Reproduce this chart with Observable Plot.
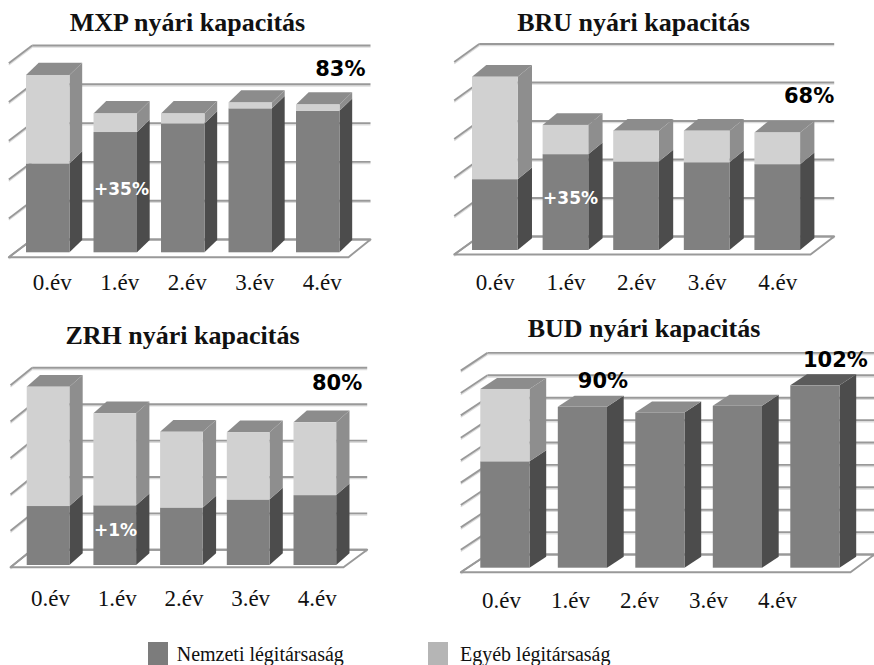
<!DOCTYPE html>
<html>
<head>
<meta charset="utf-8">
<script src="https://cdn.jsdelivr.net/npm/d3@7"></script>
<script src="https://cdn.jsdelivr.net/npm/@observablehq/plot@0.6"></script>
<style>
  body { margin: 0; background: #fff; }
  #page { position: relative; width: 874px; height: 665px; overflow: hidden; background: #fff; }
  .panel { position: absolute; }
  .title { position: absolute; font-family: "Liberation Serif", "Times New Roman", serif; font-weight: bold;
           font-size: 26px; line-height: 26px; white-space: nowrap; transform: translateX(-50%); color: #111; }
  .legend-box { position: absolute; width: 20px; height: 24px; }
  .legend-text { position: absolute; font-family: "Liberation Serif", "Times New Roman", serif; font-size: 20px;
                 line-height: 20px; white-space: nowrap; color: #111; }
</style>
</head>
<body>
<div id="page"></div>
<script>
// Years after the carrier change
const categories = ["0.év", "1.év", "2.év", "3.év", "4.év"];

// Summer seat capacity per airport, split by carrier group (same gridline units within a panel)
const mxpNational = [2.29, 3.10, 3.32, 3.71, 3.65];
const mxpOther    = [2.28, 0.48, 0.26, 0.15, 0.16];

const bruNational = [1.84, 2.49, 2.30, 2.28, 2.23];
const bruOther    = [2.66, 0.76, 0.80, 0.82, 0.82];

const zrhNational = [1.62, 1.64, 1.58, 1.80, 1.92];
const zrhOther    = [3.28, 2.53, 2.08, 1.85, 2.00];

const budNational = [4.75, 7.18, 6.93, 7.23, 8.14];
const budOther    = [3.23, 0, 0, 0, 0];

const seriesNames = ["Nemzeti légitársaság", "Egyéb légitársaság"];

const colors = {
  natFront: "#808080", natSide: "#4c4c4c",
  othFront: "#d1d1d1", othSide: "#8e8e8e",
  top: "#8c8c8c", topAccent: "#5b5b5b",
  grid: "#999999", gridShade: "#dcdcdc",
  legendNat: "#7c7c7c", legendOth: "#b5b5b5"
};

// Layout of each panel (pixels inside its own SVG)
const panels = [
  {
    title: "MXP nyári kapacitás", national: mxpNational, other: mxpOther,
    left: 0, top: 0, titleX: 187.5, titleBaseline: 31,
    xRange: [14, 351.5], barFrac: 0.644, yBase: 252.3, unit: 38.8, grid: 5, depth: [12.7, 12.3],
    wall: {backLeft: 31.7, backRight: 370, frontLeft: 8.3, frontRight: 348, back: 13.3, front: 4.4},
    labelStart: 0.5, labelStep: 1, labelDx: 4, labelBaseline: 37,
    notes: [{kind: "growth", bar: 1, at: 0.53}, {kind: "corner", bar: 4, level: 4.72, inset: 5}]
  },
  {
    title: "BRU nyári kapacitás", national: bruNational, other: bruOther,
    left: 437, top: 0, titleX: 196.5, titleBaseline: 31,
    xRange: [22.55, 375.55], barFrac: 0.647, yBase: 250, unit: 38.5, grid: 5, depth: [14.3, 11.7],
    wall: {backLeft: 41.7, backRight: 396.7, frontLeft: 16.7, frontRight: 373, back: 14, front: 4},
    labelStart: 0.5, labelStep: 1, labelDx: 0, labelBaseline: 39,
    notes: [{kind: "growth", bar: 1, at: 0.54}, {kind: "corner", bar: 4, level: 4.01, inset: 0}]
  },
  {
    title: "ZRH nyári kapacitás", national: zrhNational, other: zrhOther,
    left: 0, top: 310, titleX: 182.5, titleBaseline: 33.5,
    xRange: [14.7, 348.2], barFrac: 0.64, yBase: 255, unit: 36.4, grid: 5, depth: [13.3, 11.7],
    wall: {backLeft: 31.7, backRight: 366.7, frontLeft: 10, frontRight: 343, back: 15.7, front: 1.7},
    labelStart: 0.5, labelStep: 1, labelDx: 2, labelBaseline: 40,
    notes: [{kind: "growth", bar: 1, at: 0.58}, {kind: "corner", bar: 4, level: 5.01, inset: 5}]
  },
  {
    title: "BUD nyári kapacitás", national: budNational, other: budOther,
    left: 437, top: 310, titleX: 207, titleBaseline: 26.5,
    xRange: [29.15, 416.65], barFrac: 0.635, yBase: 257.7, unit: 22.4, grid: 9, depth: [16.7, 11],
    wall: {backLeft: 50, backRight: 437, frontLeft: 23.3, frontRight: 413, back: 13.7, front: 4},
    labelStart: 0.45, labelStep: 0.89, labelDx: 0, labelBaseline: 40, accentTop: 4,
    notes: [{kind: "above", bar: 1}, {kind: "above", bar: 4}]
  }
];

const pct = v => Math.round(v * 100) + "%";
const page = document.getElementById("page");

function drawPanel(p) {
  const n = categories.length;
  const pxX = (p.xRange[1] - p.xRange[0]) / n;          // pixels per category slot
  const sx = px => (px - p.xRange[0]) / pxX;            // pixel → slot units
  const dX = p.depth[0] / pxX, dY = p.depth[1] / p.unit; // bar depth in data units
  const pad = (1 - p.barFrac) / 2;
  const totals = p.national.map((v, i) => v + p.other[i]);

  // Stacked segments: national at the bottom, other carriers above
  const segs = [];
  categories.forEach((c, i) => {
    segs.push({i, lo: 0, hi: p.national[i], front: colors.natFront, side: colors.natSide});
    if (p.other[i] > 0) segs.push({i, lo: p.national[i], hi: totals[i], front: colors.othFront, side: colors.othSide});
  });
  const sides = segs.flatMap((s, k) => [
    {k, x: s.i + 1 - pad, y1: s.lo, y2: s.hi, fill: s.side},
    {k, x: s.i + 1 - pad + dX, y1: s.lo + dY, y2: s.hi + dY, fill: s.side}
  ]);
  const topFill = i => (i === p.accentTop ? colors.topAccent : colors.top);
  const tops = totals.flatMap((t, i) => [
    {i, y: t, x1: i + pad, x2: i + 1 - pad, fill: topFill(i)},
    {i, y: t + dY, x1: i + pad + dX, x2: i + 1 - pad + dX, fill: topFill(i)}
  ]);

  // Back wall, side-wall diagonals and floor
  const w = p.wall;
  const back = w.back / p.unit, front = w.front / p.unit;
  const bl = sx(w.backLeft), br = sx(w.backRight), fl = sx(w.frontLeft), fr = sx(w.frontRight);
  const levels = d3.range(p.grid + 1);
  const floor = [[bl, back], [br, back], [fr, -front], [fl, -front], [bl, back]];
  const shade = 1.6 / p.unit;

  // Percent annotations computed from the bar values
  const notes = p.notes.map(nt => {
    if (nt.kind === "growth") {
      const g = p.national[nt.bar] / p.national[0] - 1;
      return {x: nt.bar + pad, y: p.national[nt.bar] * nt.at, text: "+" + pct(g), kind: nt.kind};
    }
    const share = pct(totals[nt.bar] / totals[0]);
    if (nt.kind === "corner") return {x: sx(w.backRight - nt.inset), y: nt.level, text: share, kind: nt.kind};
    return {x: nt.bar + 0.5, y: totals[nt.bar], text: share, kind: nt.kind};
  });

  const marks = [
    Plot.link(levels, {x1: () => bl, x2: () => br, y1: k => k + back - shade, y2: k => k + back - shade, stroke: colors.gridShade, strokeWidth: 1.5}),
    Plot.link(levels, {x1: () => bl, x2: () => fl, y1: k => k + back - shade, y2: k => k - front - shade, stroke: colors.gridShade, strokeWidth: 1.5}),
    Plot.line(floor, {x: d => d[0], y: d => d[1], fill: "#fff", stroke: colors.grid, strokeWidth: 1.9}),
    Plot.link(levels, {x1: () => bl, x2: () => br, y1: k => k + back, y2: k => k + back, stroke: colors.grid, strokeWidth: 1.9}),
    Plot.link(levels, {x1: () => bl, x2: () => fl, y1: k => k + back, y2: k => k - front, stroke: colors.grid, strokeWidth: 1.9}),
    Plot.areaY(sides, {x: "x", y1: "y1", y2: "y2", z: "k", fill: "fill", curve: "linear"}),
    Plot.areaX(tops, {y: "y", x1: "x1", x2: "x2", z: "i", fill: "fill", curve: "linear"}),
    Plot.rect(segs, {x1: s => s.i + pad, x2: s => s.i + 1 - pad, y1: "lo", y2: "hi", fill: "front"}),
    Plot.text(categories, {
      x: (c, i) => p.labelStart + i * p.labelStep, y: () => 0, text: d => d,
      dx: p.labelDx, dy: p.labelBaseline, lineAnchor: "bottom",
      fontFamily: "Liberation Serif, Times New Roman, serif", fontSize: 23, fill: "#111"
    }),
    Plot.text(notes.filter(d => d.kind === "growth"), {
      x: "x", y: "y", text: "text", textAnchor: "start", lineAnchor: "middle", dx: 0,
      fontFamily: "DejaVu Sans, Verdana, sans-serif", fontWeight: "bold", fontSize: 17, fill: "#fff"
    }),
    Plot.text(notes.filter(d => d.kind === "corner"), {
      x: "x", y: "y", text: "text", textAnchor: "end", lineAnchor: "middle",
      fontFamily: "DejaVu Sans, Verdana, sans-serif", fontWeight: "bold", fontSize: 21, fill: "#000"
    }),
    Plot.text(notes.filter(d => d.kind === "above"), {
      x: "x", y: "y", text: "text", textAnchor: "middle", lineAnchor: "middle", dx: 20, dy: -26,
      fontFamily: "DejaVu Sans, Verdana, sans-serif", fontWeight: "bold", fontSize: 21, fill: "#000"
    })
  ];

  const svg = Plot.plot({
    width: 437, height: 310,
    marginTop: 0, marginRight: 0, marginBottom: 0, marginLeft: 0,
    x: {type: "linear", domain: [0, n], range: p.xRange, axis: null},
    y: {type: "linear", domain: [0, p.grid], range: [p.yBase, p.yBase - p.grid * p.unit], axis: null},
    color: {type: "identity"},
    style: {background: "transparent", overflow: "visible"},
    marks
  });
  const holder = document.createElement("div");
  holder.className = "panel";
  holder.style.left = p.left + "px";
  holder.style.top = p.top + "px";
  holder.appendChild(svg);
  page.appendChild(holder);

  const t = document.createElement("div");
  t.className = "title";
  t.textContent = p.title;
  t.style.left = (p.left + p.titleX) + "px";
  t.style.top = (p.top + p.titleBaseline - 21) + "px";
  page.appendChild(t);
}

panels.forEach(drawPanel);

// Legend
const legendItems = [
  {name: seriesNames[0], color: colors.legendNat, box: 148.3, text: 176.7},
  {name: seriesNames[1], color: colors.legendOth, box: 428.3, text: 460}
];
legendItems.forEach(it => {
  const b = document.createElement("div");
  b.className = "legend-box";
  b.style.left = it.box + "px"; b.style.top = "642px"; b.style.background = it.color;
  page.appendChild(b);
  const s = document.createElement("div");
  s.className = "legend-text";
  s.textContent = it.name;
  s.style.left = it.text + "px"; s.style.top = "644px";
  page.appendChild(s);
});
</script>
</body>
</html>
